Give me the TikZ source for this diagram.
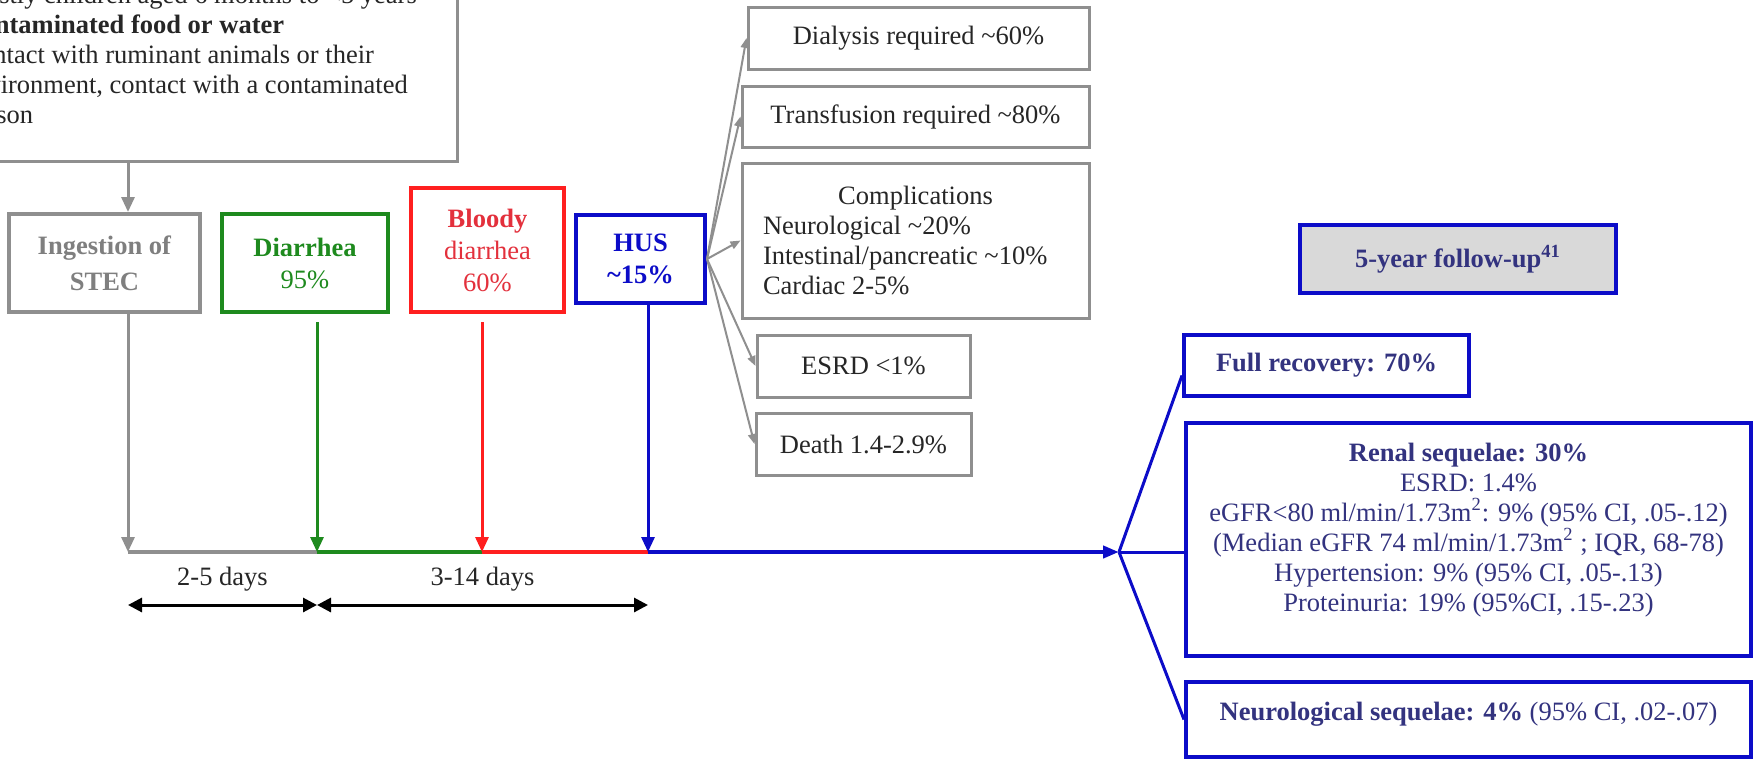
\documentclass[tikz,border=0pt]{standalone}
\usepackage{fontspec}
\setmainfont{Liberation Serif}
\usetikzlibrary{arrows.meta,positioning}
\definecolor{stecgray}{HTML}{8F8F8F}
\definecolor{ingtext}{HTML}{7F7F7F}
\definecolor{diagreen}{HTML}{1E8A1E}
\definecolor{bldred}{HTML}{FF1F1F}
\definecolor{bldtext}{HTML}{E3303C}
\definecolor{husblue}{HTML}{0C0CC8}
\definecolor{navy}{HTML}{33337F}
\definecolor{fupfill}{HTML}{D9D9D9}
\definecolor{boxtext}{HTML}{262626}
\newcommand{\boxfont}{\fontsize{13.25pt}{15pt}\selectfont}
\newcommand{\tallfont}{\fontsize{13.25pt}{16pt}\selectfont}

\begin{document}
\begin{tikzpicture}[x=0.5pt,y=-0.5pt,font=\boxfont,
  gbox/.style={draw=stecgray,line width=1.5pt,text=boxtext,inner sep=0pt},
  cbox/.style={draw=#1,line width=2pt,text=#1,align=center,inner sep=0pt,font=\tallfont},
  rbox/.style={draw=husblue,line width=2pt,text=navy,align=center,inner sep=0pt},
  vline/.style={line width=1.5pt,-{Triangle[length=7.5pt,width=6.5pt]}},
  tline/.style={line width=2pt},
  fanarr/.style={stecgray,line width=1pt,-{Triangle[length=5pt,width=4pt]}},
  fanline/.style={husblue,line width=1.5pt},
  dimarr/.style={black,line width=1.5pt,{Triangle[length=7pt,width=7pt]}-{Triangle[length=7pt,width=7pt]}}]
\useasboundingbox (0,0) rectangle (1756,761);
\fill[white] (0,0) rectangle (1756,761);
\clip (0,0) rectangle (1756,761);

% who and how
\node[gbox,anchor=south east] (src) at (459,163)
  {\parbox[c][104pt][t]{247.5pt}{\raggedright\vspace*{16pt}Mostly children aged 6 months to <5 years\\
  \textbf{Contaminated food or water}\\
  Contact with ruminant animals or their\\
  environment, contact with a contaminated\\
  person}};

% course of the disease
\node[cbox=stecgray,text=ingtext,minimum width=95.5pt,minimum height=49pt] (ing) at (104.5,263) {\textbf{Ingestion of}\\[2pt]\textbf{STEC}};
\node[cbox=diagreen,minimum width=83pt,minimum height=49pt] (dia) at (305,263) {\textbf{Diarrhea}\\95\%};
\node[cbox=bldred,text=bldtext,minimum width=76.5pt,minimum height=62pt] (bld) at (487.5,250) {\textbf{Bloody}\\diarrhea\\60\%};
\node[cbox=husblue,minimum width=64.5pt,minimum height=44pt] (hus) at (640.5,259) {\textbf{HUS}\\\textbf{\textasciitilde15\%}};

% acute phase of HUS
\node[gbox,minimum width=170.5pt,minimum height=31pt] (dial) at (918.5,38) {Dialysis required \textasciitilde60\%};
\node[gbox,minimum width=173.5pt,minimum height=30.5pt] (trans) at (915.5,116.5) {Transfusion required \textasciitilde80\%};
\node[gbox,minimum width=173.5pt,minimum height=77.5pt,inner xsep=10.5pt] (comp) at (915.5,240.5)
  {\parbox{152.5pt}{\centering Complications\par\raggedright Neurological \textasciitilde20\%\\Intestinal/pancreatic \textasciitilde10\%\\Cardiac 2-5\%}};
\node[gbox,minimum width=106.5pt,minimum height=31pt] (esrd) at (863.5,366) {ESRD <1\%};
\node[gbox,minimum width=107.5pt,minimum height=31pt,below=6.5pt of esrd] (death) {Death 1.4-2.9\%};

% follow-up
\node[rbox,fill=fupfill,minimum width=158pt,minimum height=34pt] (fup) at (1458,259) {\textbf{5-year follow-up\textsuperscript{41}}};
\node[rbox,minimum width=142.5pt,minimum height=30.5pt] (full) at (1326.5,365.5) {\textbf{Full recovery: 70\%}};
\node[rbox] (renal) at (1468.5,539.5)
  {\parbox[c][116.5pt][t]{282.5pt}{\centering\vspace*{10pt}\textbf{Renal sequelae: 30\%}\\
  ESRD: 1.4\%\\
  eGFR<80 ml/min/1.73m\textsuperscript{2}: 9\% (95\% CI, .05-.12)\\
  (Median eGFR 74 ml/min/1.73m\textsuperscript{2} ; IQR, 68-78)\\
  Hypertension: 9\% (95\% CI, .05-.13)\\
  Proteinuria: 19\% (95\%CI, .15-.23)}};
\node[rbox,below=11pt of renal] (neuro)
  {\parbox[c][37.5pt][t]{282.5pt}{\centering\vspace*{10pt}\textbf{Neurological sequelae: 4\%} (95\% CI, .02-.07)}};

% time line
\coordinate (t0) at (128,552);
\coordinate (t1) at (317,552);
\coordinate (t2) at (482,552);
\coordinate (t3) at (648,552);
\coordinate (tj) at (1119,552);
\coordinate (d0) at (128,605);
\coordinate (d1) at (317,605);
\coordinate (d2) at (648,605);

\draw[tline,stecgray] (t0) -- (t1);
\draw[tline,diagreen] (t1) -- (t2);
\draw[tline,bldred] (t2) -- (t3);
\draw[tline,husblue,-{Triangle[length=8pt,width=6pt]}] (t3) -- (tj);

\draw[vline,stecgray] (src.south -| t0) -- (ing.north -| t0);
\draw[vline,stecgray] (ing.south -| t0) -- (t0);
\draw[vline,diagreen,shorten <=4pt] (dia.south -| t1) -- (t1);
\draw[vline,bldred,shorten <=4pt] (bld.south -| t2) -- (t2);
\draw[vline,husblue] (hus.south -| t3) -- (t3);

\foreach \t in {dial,trans,comp,esrd,death}
  \draw[fanarr] (hus.east) -- (\t.west);

\draw[fanline] (tj) -- ([yshift=-5pt]full.west);
\draw[fanline] (tj) -- (tj -| renal.west);
\draw[fanline] (tj) -- (neuro.west);

\draw[dimarr] (d0) -- node[midway,yshift=13pt,text=boxtext] (dlab1) {2-5 days} (d1);
\draw[dimarr] (d1) -- node[midway,yshift=13pt,text=boxtext] (dlab2) {3-14 days} (d2);
\end{tikzpicture}
\end{document}
